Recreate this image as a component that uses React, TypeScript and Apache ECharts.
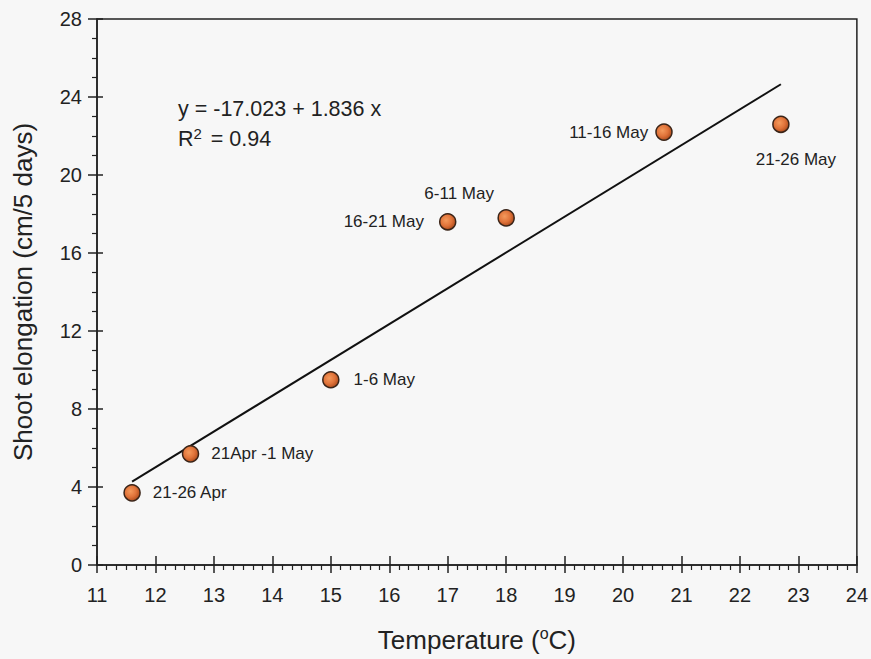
import React, { useEffect, useRef } from "react";
import * as echarts from "echarts";

// Mean temperature (°C) for each 5-day period and the shoot elongation measured over it
const periods = ["21-26 Apr", "21Apr -1 May", "1-6 May", "16-21 May", "6-11 May", "11-16 May", "21-26 May"];
const temperature = [11.6, 12.6, 15.0, 17.0, 18.0, 20.7, 22.7];
const elongation = [3.7, 5.7, 9.5, 17.6, 17.8, 22.2, 22.6];

// Fitted regression: y = a + b x, drawn over the observed temperature range
const fitIntercept = -17.023;
const fitSlope = 1.836;
const fitR2 = 0.94;
const fitRange = [11.6, 22.7];

const xTicks = { min: 11, max: 24, interval: 1 };
const yTicks = { min: 0, max: 28, interval: 4 };

const FONT = "Liberation Sans, Arial, Helvetica, sans-serif";
const INK = "#222222";

const labelPlacement: Record<string, any> = {
  "21-26 Apr": { position: "right", distance: 12 },
  "21Apr -1 May": { position: "right", distance: 12 },
  "1-6 May": { position: "right", distance: 14 },
  "16-21 May": { position: "left", distance: 15 },
  "6-11 May": { position: "top", distance: 7, offset: [-47, 0] },
  "11-16 May": { position: "left", distance: 7 },
  "21-26 May": { position: "bottom", distance: 18, offset: [15, 0] },
};

export default function App() {
  const ref = useRef<HTMLDivElement>(null);

  useEffect(() => {
    if (!ref.current) return;
    const chart = echarts.init(ref.current, null, { renderer: "svg" });

    const points = periods.map((p, i) => ({
      name: p,
      value: [temperature[i], elongation[i]],
      label: { show: true, ...labelPlacement[p] },
    }));

    const fitLine = fitRange.map((x) => [x, fitIntercept + fitSlope * x]);

    const markerFill = new echarts.graphic.RadialGradient(0.4, 0.4, 0.6, [
      { offset: 0, color: "#f59a5c" },
      { offset: 0.6, color: "#e0733a" },
      { offset: 1, color: "#b4501f" },
    ]);

    const axisLine = { show: true, lineStyle: { color: INK, width: 1.5 } };

    chart.setOption({
      animation: false,
      backgroundColor: "#f7f7f7",
      grid: {
        left: 97,
        top: 19,
        right: 13,
        bottom: 94,
        show: true,
        borderColor: INK,
        borderWidth: 1.5,
        backgroundColor: "transparent",
      },
      xAxis: [
        {
          type: "value",
          position: "bottom",
          ...xTicks,
          axisLine,
          axisTick: { show: true, inside: false, length: 8, lineStyle: { color: INK, width: 1.5 } },
          minorTick: { show: true, splitNumber: 6, length: 5, lineStyle: { color: INK, width: 1.2 } },
          splitLine: { show: false },
          axisLabel: { fontSize: 20, color: INK, fontFamily: FONT, margin: 20 },
          name: "Temperature ({sup|o}C)",
          nameLocation: "middle",
          nameGap: 60,
          nameTextStyle: {
            fontSize: 26,
            color: INK,
            fontFamily: FONT,
            rich: { sup: { fontSize: 16, fontFamily: FONT, color: INK, verticalAlign: "top", padding: [0, 0, 13, 0] } },
          },
        },
        {
          type: "value",
          position: "bottom",
          ...xTicks,
          axisLine: { show: false },
          axisTick: { show: true, inside: true, length: 9, lineStyle: { color: INK, width: 1.5 } },
          splitLine: { show: false },
          axisLabel: { show: false },
        },
      ],
      yAxis: [
        {
          type: "value",
          position: "left",
          ...yTicks,
          axisLine,
          axisTick: { show: true, inside: false, length: 9, lineStyle: { color: INK, width: 1.5 } },
          minorTick: { show: true, splitNumber: 4, length: 5, lineStyle: { color: INK, width: 1.2 } },
          splitLine: { show: false },
          axisLabel: { fontSize: 20, color: INK, fontFamily: FONT, margin: 15 },
          name: "Shoot elongation (cm/5 days)",
          nameLocation: "middle",
          nameGap: 61,
          nameTextStyle: { fontSize: 26, color: INK, fontFamily: FONT },
        },
        {
          type: "value",
          position: "left",
          ...yTicks,
          axisLine: { show: false },
          axisTick: { show: true, inside: true, length: 6, lineStyle: { color: INK, width: 1.5 } },
          splitLine: { show: false },
          axisLabel: { show: false },
        },
      ],
      series: [
        {
          type: "line",
          xAxisIndex: 0,
          yAxisIndex: 0,
          data: fitLine,
          symbol: "none",
          lineStyle: { color: "#111111", width: 2 },
          z: 2,
        },
        {
          type: "scatter",
          xAxisIndex: 0,
          yAxisIndex: 0,
          data: points,
          symbol: "circle",
          symbolSize: 16,
          itemStyle: { color: markerFill, borderColor: "#3a2418", borderWidth: 1.5, opacity: 1 },
          label: {
            formatter: "{b}",
            fontSize: 17,
            color: INK,
            fontFamily: FONT,
          },
          z: 3,
        },
      ],
      graphic: [
        {
          type: "text",
          left: 178,
          top: 98,
          style: {
            text: `y = ${fitIntercept} + ${fitSlope} x`,
            fontSize: 21.5,
            fontFamily: FONT,
            fill: INK,
          },
        },
        {
          type: "text",
          left: 178,
          top: 126,
          style: {
            text: `R{sup|2} = ${fitR2}`,
            fontSize: 21.5,
            fontFamily: FONT,
            fill: INK,
            rich: {
              sup: { fontSize: 15, fontFamily: FONT, fill: INK, verticalAlign: "top", padding: [0, 3, 10, 0] },
            },
          },
        },
      ],
    });

    return () => chart.dispose();
  }, []);

  return (
    <div
      ref={ref}
      style={{ position: "absolute", left: 0, top: 0, width: 871, height: 659 }}
    />
  );
}
